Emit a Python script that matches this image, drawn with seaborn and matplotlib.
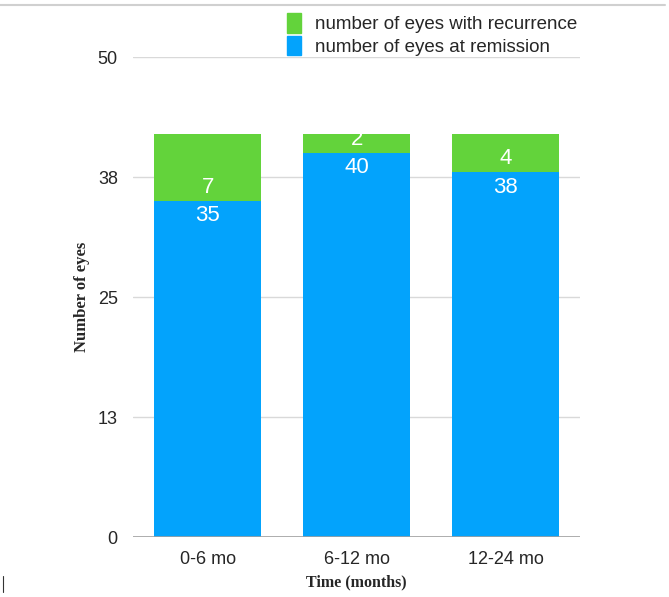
import matplotlib
matplotlib.use("Agg")
import matplotlib.pyplot as plt
import seaborn as sns
import pandas as pd
from matplotlib.patches import Patch
from matplotlib.lines import Line2D

# data
periods = ["0-6 mo", "6-12 mo", "12-24 mo"]
remission = [35, 40, 38]
recurrence = [7, 2, 4]
yticks = [0, 12.5, 25, 37.5, 50]
ytick_labels = ["0", "13", "25", "38", "50"]

green = "#63d33b"
blue = "#03a3fc"

df = pd.DataFrame({"period": periods, "remission": remission, "recurrence": recurrence})
df["total"] = df["remission"] + df["recurrence"]

sns.set_style("white")
plt.rcParams["font.family"] = ["Liberation Sans", "DejaVu Sans"]

fig = plt.figure(figsize=(6.69, 5.97), dpi=100)
ax = fig.add_axes([0.199, 0.1005, 0.668, 0.804])

sns.barplot(data=df, x="period", y="total", color=green, width=0.72, saturation=1,
            linewidth=0, edgecolor="none", ax=ax, zorder=3)
sns.barplot(data=df, x="period", y="remission", color=blue, width=0.72, saturation=1,
            linewidth=0, edgecolor="none", ax=ax, zorder=3)

for i, row in df.iterrows():
    ax.text(i, row["remission"] - 1.55, str(row["remission"]), color="white", ha="center", va="center",
            fontsize=16, zorder=5)
    ax.text(i, row["remission"] + 1.4, str(row["recurrence"]), color="white", ha="center", va="center",
            fontsize=16, zorder=5)

ax.set_ylim(0, 50)
ax.set_xlim(-0.5, 2.5)
ax.set_yticks(yticks)
ax.set_yticklabels(ytick_labels, fontsize=13)
ax.tick_params(axis="x", labelsize=13, pad=10, length=0)
ax.tick_params(axis="y", pad=11, length=0)
for t in yticks[1:]:
    ax.axhline(t, color="#d9d9d9", lw=1, zorder=1)
ax.axhline(0, color="#a0a0a0", lw=1.2, zorder=4)
for s in ax.spines.values():
    s.set_visible(False)

ax.set_xlabel("Time (months)", fontfamily="Liberation Serif", fontweight="bold", fontsize=11.5)
ax.set_ylabel("Number of eyes", fontfamily="Liberation Serif", fontweight="bold", fontsize=12)
ax.xaxis.set_label_coords(0.5, -0.078)
ax.yaxis.set_label_coords(-0.097, 0.5)

handles = [Patch(color=green, label="number of eyes with recurrence"),
           Patch(color=blue, label="number of eyes at remission")]
fig.legend(handles=handles, loc="upper left", bbox_to_anchor=(0.418, 0.99), frameon=False,
           fontsize=13.5, handlelength=0.75, handleheight=1.2, handletextpad=0.75, labelspacing=0.15,
           borderaxespad=0)

# thin border remnants of the original screenshot
fig.add_artist(Line2D([0, 0.994], [0.992, 0.992], color="#d0d0d0", lw=1.5, transform=fig.transFigure))
fig.add_artist(Line2D([0.005, 0.005], [0.008, 0.036], color="#333333", lw=0.8, transform=fig.transFigure))

fig.savefig("out.png", dpi=100)
